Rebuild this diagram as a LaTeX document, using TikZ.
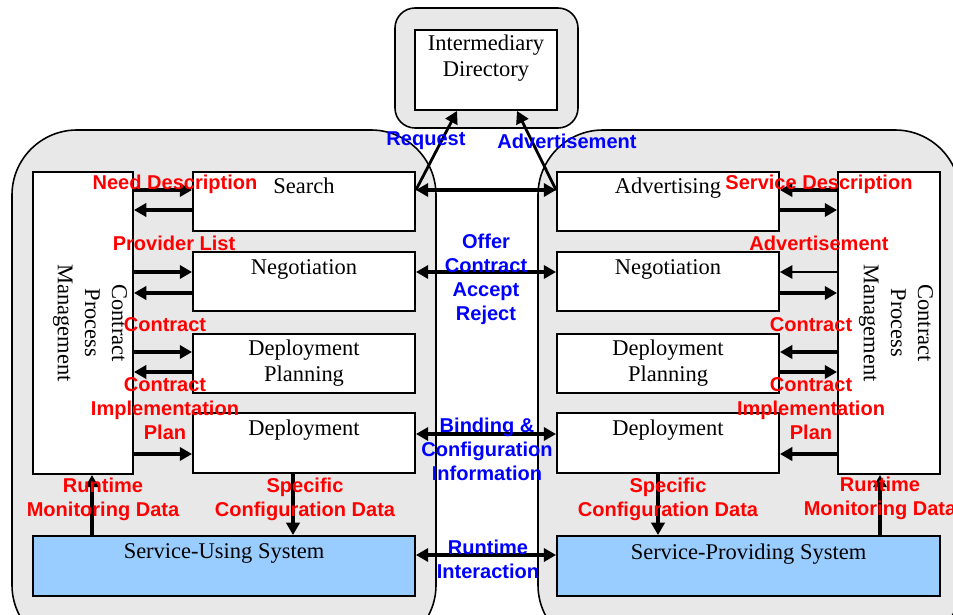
\documentclass[tikz,border=0pt]{standalone}
\usepackage{fontspec}
\setmainfont{Liberation Serif}
\newfontfamily\labelfont{Liberation Sans}
\usetikzlibrary{arrows.meta}
\definecolor{panelgray}{RGB}{232,232,232}
\definecolor{sysblue}{RGB}{153,204,255}
\tikzset{
  panel/.style={draw=black, line width=0.9pt, fill=panelgray},
  box/.style={draw=black, line width=1.1pt, fill=white, inner sep=0pt},
  sysbox/.style={box, fill=sysblue},
  boxtext/.style={font=\fontsize{12.8}{14.8}\selectfont, align=center, inner sep=0pt, anchor=north},
  cpmtext/.style={font=\fontsize{12.8}{15.4}\selectfont, align=center, inner sep=0pt, rotate=-90},
  redlab/.style={font=\labelfont\bfseries\fontsize{11.4}{13.7}\selectfont, text=red, align=center, inner sep=0pt},
  bluelab/.style={redlab, text=blue},
  arr/.style={line width=2pt, -{Triangle[length=7pt,width=7.5pt]}},
  thinarr/.style={line width=1pt, -{Triangle[length=7pt,width=7.5pt]}},
  dblarr/.style={line width=2pt, {Triangle[length=7pt,width=7.5pt]}-{Triangle[length=7pt,width=7.5pt]}},
  diagarr/.style={line width=1.6pt, -{Triangle[length=7pt,width=7.5pt]}}
}
\begin{document}
\begin{tikzpicture}[x=0.02cm, y=-0.02cm]
\useasboundingbox (0,0) rectangle (953,615);
\clip (0,0) rectangle (953,615);

% --- shaded regions: directory, service user, service provider
\draw[panel, rounded corners=0.4cm] (395,8) rectangle (578,128);
\draw[panel, rounded corners=1.3cm] (12,130) rectangle (436,650);
\draw[panel, rounded corners=1.3cm] (538,130) rectangle (960,650);

% --- directory
\node[box, minimum width=2.84cm, minimum height=1.6cm] (dir) at (486,70) {};
\node[boxtext] (dirT) at ([yshift=-3.2pt]dir.north) {Intermediary\\Directory};

% --- service user side
\node[box, minimum width=2cm, minimum height=6.04cm] (cpmL) at (83,323) {};
\node[cpmtext] (cpmLT) at ([xshift=4pt]cpmL.center) {Contract\\Process\\Management};
\node[box, minimum width=4.44cm, minimum height=1.18cm] (search) at (304,201.5) {};
\node[box, minimum width=4.44cm, minimum height=1.18cm] (negL) at (304,281.5) {};
\node[box, minimum width=4.44cm, minimum height=1.18cm] (dplanL) at (304,363.5) {};
\node[box, minimum width=4.44cm, minimum height=1.2cm] (deplL) at (304,443) {};
\node[sysbox, minimum width=7.64cm, minimum height=1.2cm] (sysL) at (224,566) {};
\node[boxtext] (searchT) at ([yshift=-3.6pt]search.north) {Search};
\node[boxtext] (negLT) at ([yshift=-4.4pt]negL.north) {Negotiation};
\node[boxtext] (dplanLT) at ([yshift=-3.6pt]dplanL.north) {Deployment\\Planning};
\node[boxtext] (deplLT) at ([yshift=-4.2pt]deplL.north) {Deployment};
\node[boxtext] (sysLT) at ([yshift=-4.6pt]sysL.north) {Service-Using System};

% --- service provider side
\node[box, minimum width=2.04cm, minimum height=6.04cm] (cpmR) at (889,323) {};
\node[cpmtext] (cpmRT) at ([xshift=4pt]cpmR.center) {Contract\\Process\\Management};
\node[box, minimum width=4.44cm, minimum height=1.18cm] (adv) at (668,201.5) {};
\node[box, minimum width=4.44cm, minimum height=1.18cm] (negR) at (668,281.5) {};
\node[box, minimum width=4.44cm, minimum height=1.18cm] (dplanR) at (668,363.5) {};
\node[box, minimum width=4.44cm, minimum height=1.2cm] (deplR) at (668,443) {};
\node[sysbox, minimum width=7.66cm, minimum height=1.2cm] (sysR) at (748.5,566) {};
\node[boxtext] (advT) at ([yshift=-3.6pt]adv.north) {Advertising};
\node[boxtext] (negRT) at ([yshift=-4.4pt]negR.north) {Negotiation};
\node[boxtext] (dplanRT) at ([yshift=-3.6pt]dplanR.north) {Deployment\\Planning};
\node[boxtext] (deplRT) at ([yshift=-4.2pt]deplR.north) {Deployment};
\node[boxtext] (sysRT) at ([yshift=-4.6pt]sysR.north) {Service-Providing System};

% --- arrows, user side
\draw[arr] (cpmL.east |- 0,190) -- (search.west |- 0,190);
\draw[arr] (search.west |- 0,210) -- (cpmL.east |- 0,210);
\draw[arr] (cpmL.east |- 0,272) -- (negL.west |- 0,272);
\draw[arr] (negL.west |- 0,293) -- (cpmL.east |- 0,293);
\draw[arr] (cpmL.east |- 0,352) -- (dplanL.west |- 0,352);
\draw[arr] (dplanL.west |- 0,372) -- (cpmL.east |- 0,372);
\draw[arr] (cpmL.east |- 0,454) -- (deplL.west |- 0,454);
\draw[arr] (sysL.north -| 92,0) -- (cpmL.south -| 92,0);
\draw[arr] (deplL.south -| 293,0) -- (sysL.north -| 293,0);

% --- arrows, provider side
\draw[arr] (cpmR.west |- 0,190) -- (adv.east |- 0,190);
\draw[arr] (adv.east |- 0,210) -- (cpmR.west |- 0,210);
\draw[thinarr] (cpmR.west |- 0,272) -- (negR.east |- 0,272);
\draw[arr] (negR.east |- 0,293) -- (cpmR.west |- 0,293);
\draw[arr] (cpmR.west |- 0,352) -- (dplanR.east |- 0,352);
\draw[arr] (dplanR.east |- 0,372) -- (cpmR.west |- 0,372);
\draw[arr] (cpmR.west |- 0,454) -- (deplR.east |- 0,454);
\draw[arr] (sysR.north -| 880,0) -- (cpmR.south -| 880,0);
\draw[arr] (deplR.south -| 658,0) -- (sysR.north -| 658,0);

% --- arrows between the two parties and to the directory
\draw[dblarr] (search.east |- 0,190) -- (adv.west |- 0,190);
\draw[dblarr] (negL.east |- 0,272) -- (negR.west |- 0,272);
\draw[dblarr] (deplL.east |- 0,434) -- (deplR.west |- 0,434);
\draw[dblarr] (sysL.east |- 0,555) -- (sysR.west |- 0,555);
\draw[diagarr] (search.east |- 0,190) -- (dir.south -| 457,0);
\draw[diagarr] (adv.west |- 0,190) -- (dir.south -| 517,0);

% --- labels, user side
\node[redlab] (lNeed) at (175,184) {Need Description};
\node[redlab] (lProv) at (174,243) {Provider List};
\node[redlab] (lContrL) at (165,325) {Contract};
\node[redlab] (lPlanL) at (165,409) {Contract\\Implementation\\Plan};
\node[redlab] (lMonL) at (103,499.5) {Runtime\\Monitoring Data};
\node[redlab] (lCfgL) at (305,499.5) {Specific\\Configuration Data};

% --- labels, provider side
\node[redlab] (lSvc) at (819,184) {Service Description};
\node[redlab] (lAdvR) at (819,243) {Advertisement};
\node[redlab] (lContrR) at (811,325) {Contract};
\node[redlab] (lPlanR) at (811,409) {Contract\\Implementation\\Plan};
\node[redlab] (lMonR) at (880,498) {Runtime\\Monitoring Data};
\node[redlab] (lCfgR) at (668,499.5) {Specific\\Configuration Data};

% --- labels, exchanges
\node[bluelab] (lReq) at (426,141) {Request};
\node[bluelab] (lAdv) at (567,141) {Advertisement};
\node[bluelab] (lOffer) at (486,279) {Offer\\Contract\\Accept\\Reject};
\node[bluelab] (lBind) at (487,449) {Binding \&\\Configuration\\Information};
\node[bluelab] (lRun) at (488,559) {Runtime\\Interaction};
\end{tikzpicture}
\end{document}
